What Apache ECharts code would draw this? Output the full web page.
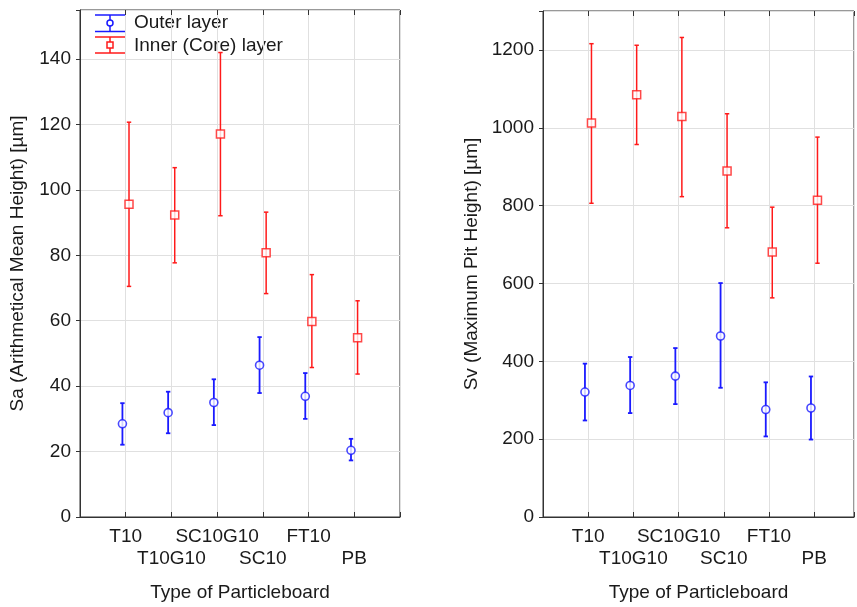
<!DOCTYPE html>
<html>
<head>
<meta charset="utf-8">
<script src="https://cdn.jsdelivr.net/npm/echarts@6/dist/echarts.min.js"></script>
<style>
html,body{margin:0;padding:0;background:#fff;}
#chart{width:857px;height:607px;}
</style>
</head>
<body>
<div id="chart"></div>
<script>
// ---- data ----
const categories = ['T10', 'T10G10', 'SC10G10', 'SC10', 'FT10', 'PB'];

// Sa (Arithmetical Mean Height) [µm]
const saOuterMean = [28.5, 31.9, 35.0, 46.4, 36.9, 20.4];
const saOuterLow  = [22.1, 25.6, 28.1, 37.9, 30.0, 17.3];
const saOuterHigh = [34.8, 38.3, 42.1, 55.0, 44.0, 23.9];
const saInnerMean = [95.6, 92.3, 117.1, 80.8, 59.8, 54.8];
const saInnerLow  = [70.5, 77.7, 92.1, 68.3, 45.7, 43.7];
const saInnerHigh = [120.7, 106.8, 142.0, 93.2, 74.1, 66.1];

// Sv (Maximum Pit Height) [µm]
const svOuterMean = [321, 338, 362, 465, 276, 280];
const svOuterLow  = [248, 267, 290, 332, 207, 199];
const svOuterHigh = [394, 411, 434, 601, 346, 361];
const svInnerMean = [1012, 1085, 1029, 889, 681, 814];
const svInnerLow  = [806, 957, 823, 743, 563, 652];
const svInnerHigh = [1216, 1212, 1232, 1036, 796, 976];

const seriesNames = ['Outer layer', 'Inner (Core) layer'];
const xTitle = 'Type of Particleboard';
const saTitle = 'Sa (Arithmetical Mean Height) [µm]';
const svTitle = 'Sv (Maximum Pit Height) [µm]';

// ---- styling ----
const BLUE = '#1a1aff';
const RED = '#ff1a1a';
const FONT = "'Liberation Sans', Arial, sans-serif";
const FS = 19;
const TXT = '#1a1a1a';
const OFFSET = 0.072;

function pts(means, shift) {
  return means.map((m, i) => [i + 1 + shift, m]);
}
function bars(lows, highs, shift) {
  return lows.map((l, i) => [i + 1 + shift, l, highs[i]]);
}
function errRender(color, lw) {
  return function (params, api) {
    const x = api.value(0);
    const p1 = api.coord([x, api.value(2)]);
    const p2 = api.coord([x, api.value(1)]);
    const cw = 2.2;
    const st = { stroke: color, lineWidth: lw };
    return {
      type: 'group',
      children: [
        { type: 'line', shape: { x1: p1[0], y1: p1[1], x2: p2[0], y2: p2[1] }, style: st },
        { type: 'line', shape: { x1: p1[0] - cw, y1: p1[1], x2: p1[0] + cw, y2: p1[1] }, style: st },
        { type: 'line', shape: { x1: p2[0] - cw, y1: p2[1], x2: p2[0] + cw, y2: p2[1] }, style: st }
      ]
    };
  };
}
function catLabel(v) {
  if (Math.abs(v - Math.round(v)) > 1e-6) return '';
  const idx = Math.round(v) - 1;
  if (idx < 0 || idx >= categories.length) return '';
  return idx % 2 ? '\n' + categories[idx] : categories[idx];
}
function intTick(v) {
  return Math.abs(v - Math.round(v)) < 1e-6 && v > 0.5 && v < 6.5;
}

function xAxes(gridIndex, max) {
  return [{
    type: 'value', gridIndex: gridIndex, position: 'bottom', min: 0, max: max, interval: 1,
    name: xTitle, nameLocation: 'middle', nameGap: 66,
    nameTextStyle: { fontFamily: FONT, fontSize: FS, color: TXT },
    axisLine: { show: true, onZero: false, lineStyle: { color: '#333', width: 1 } },
    axisTick: { show: true, inside: true, length: 5, lineStyle: { color: '#333' } },
    axisLabel: {
      formatter: catLabel, fontFamily: FONT, fontSize: FS, color: TXT,
      margin: 9, lineHeight: 22, verticalAlign: 'top', showMinLabel: true, showMaxLabel: true
    },
    splitLine: { show: true, lineStyle: { color: '#e0e0e0', width: 1 } }
  }, {
    type: 'value', gridIndex: gridIndex, position: 'top', min: 0, max: max, interval: 1,
    axisLine: { show: false, onZero: false },
    axisTick: { show: true, inside: true, length: 5, lineStyle: { color: '#333' } },
    axisLabel: { show: false },
    splitLine: { show: false }
  }];
}
function yAxis(gridIndex, max, interval, title, gap) {
  return {
    type: 'value', gridIndex: gridIndex, min: 0, max: max, interval: interval,
    name: title, nameLocation: 'middle', nameGap: gap, nameRotate: 90,
    nameTextStyle: { fontFamily: FONT, fontSize: FS, color: TXT },
    axisLine: { show: true, onZero: false, lineStyle: { color: '#333', width: 1 } },
    axisTick: { show: true, inside: false, length: 4, lineStyle: { color: '#333' } },
    axisLabel: {
      fontFamily: FONT, fontSize: FS, color: TXT, margin: 9,
      formatter: v => (v % interval === 0 ? String(v) : '')
    },
    splitLine: { show: true, lineStyle: { color: '#e0e0e0', width: 1 } }
  };
}

const xa = xAxes(0, 7).concat(xAxes(1, 6.88));
const option = {
  backgroundColor: '#fff',
  animation: false,
  grid: [
    { left: 80, top: 10, width: 320, height: 512, show: true, borderColor: '#333', borderWidth: 1, backgroundColor: 'transparent' },
    { left: 543, top: 11, width: 314, height: 511, show: true, borderColor: '#333', borderWidth: 1, backgroundColor: 'transparent' }
  ],
  xAxis: xa,
  yAxis: [
    yAxis(0, 155, 20, saTitle, 53),
    yAxis(1, 1300, 200, svTitle, 62)
  ],
  series: [
    { type: 'custom', name: seriesNames[0], xAxisIndex: 0, yAxisIndex: 0, renderItem: errRender(BLUE, 1.8), data: bars(saOuterLow, saOuterHigh, -OFFSET), encode: { x: 0, y: [1, 2] }, z: 2 },
    { type: 'custom', name: seriesNames[1], xAxisIndex: 0, yAxisIndex: 0, renderItem: errRender(RED, 1.5), data: bars(saInnerLow, saInnerHigh, OFFSET), encode: { x: 0, y: [1, 2] }, z: 2 },
    { type: 'scatter', xAxisIndex: 0, yAxisIndex: 0, symbol: 'circle', symbolSize: 8, data: pts(saOuterMean, -OFFSET), itemStyle: { color: '#fff', borderColor: BLUE, borderWidth: 1.6 }, z: 3 },
    { type: 'scatter', xAxisIndex: 0, yAxisIndex: 0, symbol: 'rect', symbolSize: 8, data: pts(saInnerMean, OFFSET), itemStyle: { color: '#fff', borderColor: RED, borderWidth: 1.5 }, z: 3 },

    { type: 'custom', xAxisIndex: 2, yAxisIndex: 1, renderItem: errRender(BLUE, 1.8), data: bars(svOuterLow, svOuterHigh, -OFFSET), encode: { x: 0, y: [1, 2] }, z: 2 },
    { type: 'custom', xAxisIndex: 2, yAxisIndex: 1, renderItem: errRender(RED, 1.5), data: bars(svInnerLow, svInnerHigh, OFFSET), encode: { x: 0, y: [1, 2] }, z: 2 },
    { type: 'scatter', xAxisIndex: 2, yAxisIndex: 1, symbol: 'circle', symbolSize: 8, data: pts(svOuterMean, -OFFSET), itemStyle: { color: '#fff', borderColor: BLUE, borderWidth: 1.6 }, z: 3 },
    { type: 'scatter', xAxisIndex: 2, yAxisIndex: 1, symbol: 'rect', symbolSize: 8, data: pts(svInnerMean, OFFSET), itemStyle: { color: '#fff', borderColor: RED, borderWidth: 1.5 }, z: 3 }
  ],
  graphic: [
    // legend: Outer layer
    { type: 'line', shape: { x1: 95, y1: 15, x2: 125, y2: 15 }, style: { stroke: BLUE, lineWidth: 1.5 } },
    { type: 'line', shape: { x1: 95, y1: 31.5, x2: 125, y2: 31.5 }, style: { stroke: BLUE, lineWidth: 1.5 } },
    { type: 'line', shape: { x1: 110, y1: 15, x2: 110, y2: 31.5 }, style: { stroke: BLUE, lineWidth: 1.5 } },
    { type: 'circle', shape: { cx: 110, cy: 23, r: 3 }, style: { fill: '#fff', stroke: BLUE, lineWidth: 1.5 } },
    { type: 'text', x: 134, y: 23, style: { text: seriesNames[0], font: FS + 'px ' + FONT, fill: TXT, verticalAlign: 'middle' } },
    // legend: Inner (Core) layer
    { type: 'line', shape: { x1: 95, y1: 37, x2: 125, y2: 37 }, style: { stroke: RED, lineWidth: 1.5 } },
    { type: 'line', shape: { x1: 95, y1: 53, x2: 125, y2: 53 }, style: { stroke: RED, lineWidth: 1.5 } },
    { type: 'line', shape: { x1: 110, y1: 37, x2: 110, y2: 53 }, style: { stroke: RED, lineWidth: 1.5 } },
    { type: 'rect', shape: { x: 107, y: 42, width: 6, height: 6 }, style: { fill: '#fff', stroke: RED, lineWidth: 1.5 } },
    { type: 'text', x: 134, y: 45.5, style: { text: seriesNames[1], font: FS + 'px ' + FONT, fill: TXT, verticalAlign: 'middle' } }
  ]
};

const chart = echarts.init(document.getElementById('chart'), null, { renderer: 'canvas' });
chart.setOption(option);
</script>
</body>
</html>
